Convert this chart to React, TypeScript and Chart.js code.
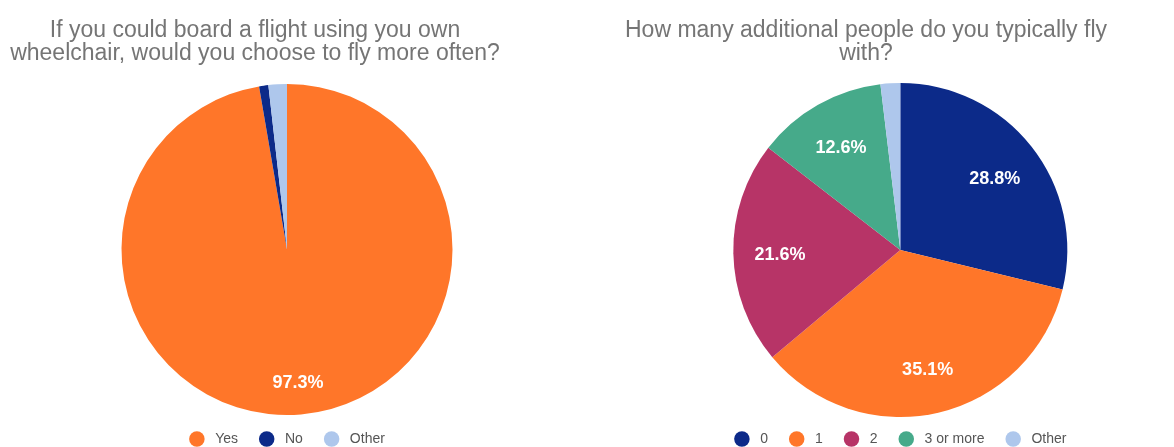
import React, { useEffect, useRef } from "react";
import { Chart, registerables } from "chart.js";

Chart.register(...registerables);

// ---- Data ----
const leftTitle = ["If you could board a flight using you own", "wheelchair, would you choose to fly more often?"];
const leftLabels = ["Yes", "No", "Other"];
const leftValues = [97.3, 0.9, 1.8];
const leftColors = ["#FF7629", "#0C2A89", "#AEC7EC"];

const rightTitle = ["How many additional people do you typically fly", "with?"];
const rightLabels = ["0", "1", "2", "3 or more", "Other"];
const rightValues = [28.8, 35.1, 21.6, 12.6, 1.9];
const rightColors = ["#0C2A89", "#FF7629", "#B73467", "#46AA8A", "#AEC7EC"];

const FONT = '"Liberation Sans", Arial, Helvetica, sans-serif';

type Extra = {
  title: string[];
  titleX: number;
  labelFactor: number;
};

const decorPlugin = {
  id: "decor",
  afterDatasetsDraw(chart: any, _args: any, opts: any) {
    const ctx = chart.ctx as CanvasRenderingContext2D;
    const meta = chart.getDatasetMeta(0);
    const ds = chart.data.datasets[0];
    const values = ds.data as number[];
    const total = values.reduce((a: number, b: number) => a + b, 0);
    const extra: Extra = opts.extra;
    ctx.save();
    // slice labels
    ctx.font = `bold 18px ${FONT}`;
    ctx.fillStyle = "#ffffff";
    ctx.textAlign = "center";
    ctx.textBaseline = "middle";
    meta.data.forEach((arc: any, i: number) => {
      const pct = (values[i] / total) * 100;
      if (pct < 5) return;
      const p = arc.getProps(["x", "y", "startAngle", "endAngle", "outerRadius"], true);
      const mid = (p.startAngle + p.endAngle) / 2;
      const d = p.outerRadius * extra.labelFactor;
      ctx.fillText(values[i].toFixed(1) + "%", p.x + Math.cos(mid) * d, p.y + Math.sin(mid) * d + 3);
    });
    // title
    ctx.font = `23px ${FONT}`;
    ctx.fillStyle = "#757575";
    ctx.textBaseline = "alphabetic";
    extra.title.forEach((line, i) => {
      ctx.fillText(line, extra.titleX, 36.5 + i * 23);
    });
    // legend
    const labels = chart.data.labels as string[];
    const colors = ds.backgroundColor as string[];
    ctx.font = `14px ${FONT}`;
    const dia = 15.5;
    const gap = 10.5;
    const spacing = 21;
    const widths = labels.map((l) => ctx.measureText(l).width);
    const total_w = widths.reduce((a, w) => a + dia + gap + w, 0) + spacing * (labels.length - 1);
    const cx = meta.data[0].x;
    let x = cx - total_w / 2;
    const ly = 439;
    ctx.textAlign = "left";
    ctx.textBaseline = "middle";
    labels.forEach((l, i) => {
      ctx.beginPath();
      ctx.fillStyle = colors[i];
      ctx.arc(x + dia / 2, ly, dia / 2, 0, Math.PI * 2);
      ctx.fill();
      ctx.fillStyle = "#555555";
      ctx.fillText(l, x + dia + gap, ly + 0.5);
      x += dia + gap + widths[i] + spacing;
    });
    ctx.restore();
  },
};

function PieChart(props: {
  labels: string[];
  values: number[];
  colors: string[];
  padding: { left: number; right: number; top: number; bottom: number };
  extra: Extra;
  left: number;
}) {
  const ref = useRef<HTMLCanvasElement | null>(null);
  useEffect(() => {
    if (!ref.current) return;
    const chart = new Chart(ref.current, {
      type: "pie",
      data: {
        labels: props.labels,
        datasets: [
          {
            data: props.values,
            backgroundColor: props.colors,
            borderWidth: 0,
          },
        ],
      },
      options: {
        responsive: false,
        animation: false,
        layout: { padding: props.padding },
        plugins: {
          legend: { display: false },
          title: { display: false },
          tooltip: { enabled: false },
          decor: { extra: props.extra },
        } as any,
      },
      plugins: [decorPlugin],
    });
    return () => chart.destroy();
  }, []);
  return (
    <canvas
      ref={ref}
      width={587}
      height={447}
      style={{ position: "absolute", left: props.left, top: 0, width: 587, height: 447 }}
    />
  );
}

export default function App() {
  return (
    <div style={{ position: "absolute", left: 0, top: 0, width: 1174, height: 447, background: "#ffffff" }}>
      <PieChart
        labels={leftLabels}
        values={leftValues}
        colors={leftColors}
        padding={{ left: 121.5, right: 134.5, top: 84, bottom: 32 }}
        extra={{ title: leftTitle, titleX: 255, labelFactor: 0.79 }}
        left={0}
      />
      <PieChart
        labels={rightLabels}
        values={rightValues}
        colors={rightColors}
        padding={{ left: 146.3, right: 106.7, top: 83, bottom: 30 }}
        extra={{ title: rightTitle, titleX: 279, labelFactor: 0.72 }}
        left={587}
      />
    </div>
  );
}
